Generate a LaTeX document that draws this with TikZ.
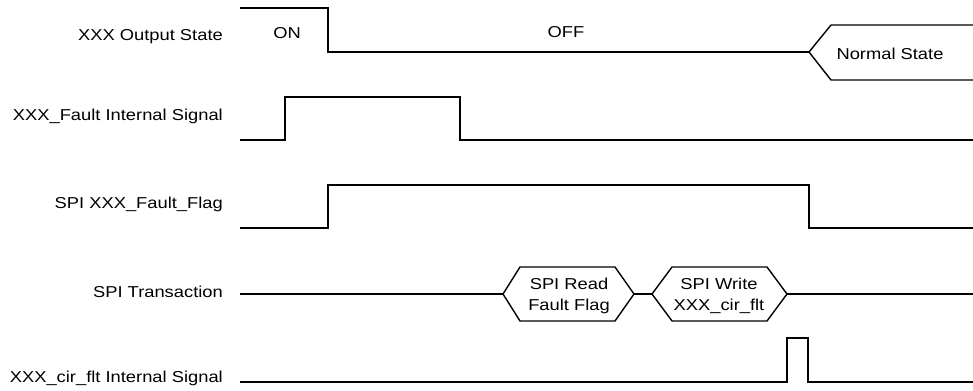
\documentclass[tikz,border=0pt]{standalone}
\usepackage{fontspec}
\setmainfont[FakeStretch=1.16]{Liberation Sans}
\begin{document}
\begin{tikzpicture}[x=1bp,y=-1bp,
  wave/.style={line width=1.4bp, line join=miter},
  lbl/.style={anchor=base east, inner sep=0, font=\fontsize{15.8bp}{19bp}\selectfont},
  txt/.style={anchor=base, inner sep=0, font=\fontsize{15.8bp}{19bp}\selectfont}]
\useasboundingbox (0,0) rectangle (973,390);
% labels
\node[lbl] (l1) at (223,40.7) {XXX Output State};
\node[lbl] (l2) at (223,120) {XXX\_Fault Internal Signal};
\node[lbl] (l3) at (223,208) {SPI XXX\_Fault\_Flag};
\node[lbl] (l4) at (223,297.5) {SPI Transaction};
\node[lbl] (l5) at (223,382) {XXX\_cir\_flt Internal Signal};
% state texts
\node[txt] (on) at (287,38) {ON};
\node[txt] (off) at (566,37) {OFF};
\node[txt] (norm) at (890,59) {Normal State};
\node[txt] (r1) at (569,289) {SPI Read};
\node[txt] (r2) at (569,310) {Fault Flag};
\node[txt] (w1) at (719,289) {SPI Write};
\node[txt] (w2) at (719,310) {XXX\_cir\_flt};
% row 1
\draw[wave] (240,8) -- (328,8) -- (328,52) -- (809,52);
\draw[wave] (973,25) -- (831,25) -- (809,52) -- (831,80) -- (973,80);
% row 2
\draw[wave] (240,140) -- (285,140) -- (285,97) -- (460,97) -- (460,140) -- (973,140);
% row 3
\draw[wave] (240,228) -- (328,228) -- (328,185) -- (809,185) -- (809,228) -- (973,228);
% row 4
\draw[wave] (240,294) -- (503,294);
\draw[wave] (503,294) -- (520,267) -- (615,267) -- (634,294) -- (615,321) -- (520,321) -- cycle;
\draw[wave] (634,294) -- (652,294);
\draw[wave] (652,294) -- (672,267) -- (767,267) -- (787,294) -- (767,321) -- (672,321) -- cycle;
\draw[wave] (787,294) -- (973,294);
% row 5
\draw[wave] (240,382) -- (787,382) -- (787,338) -- (808,338) -- (808,382) -- (973,382);
\end{tikzpicture}
\end{document}
